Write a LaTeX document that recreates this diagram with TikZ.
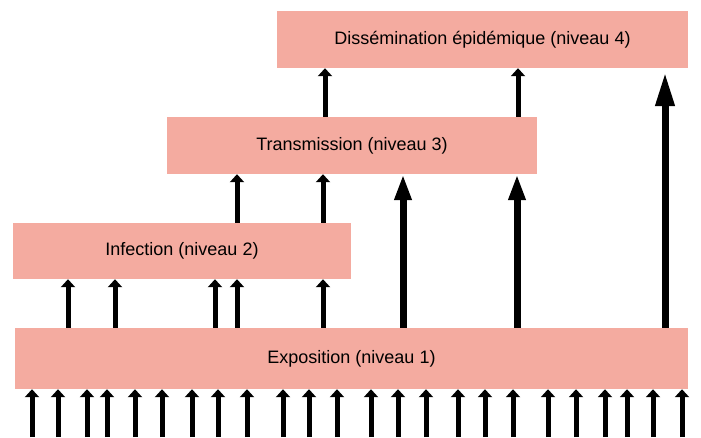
\documentclass[tikz,border=0pt]{standalone}
\usepackage{fontspec}
\setmainfont{Liberation Sans}
\usetikzlibrary{arrows.meta}
\definecolor{rosebox}{HTML}{F4ABA0}

\begin{document}
\begin{tikzpicture}[x=1pt,y=-1pt,font=\fontsize{18}{21}\selectfont,
    boite/.style={fill=rosebox,inner sep=0pt},
    petite/.style={line width=5pt,-{Triangle[length=8pt,width=14pt]}},
    grande/.style={line width=7pt,-{Triangle[length=26pt,width=16pt]}},
    tresgrande/.style={line width=7pt,-{Triangle[length=34pt,width=18pt]}}]
  \useasboundingbox (0,0) rectangle (701,437);

  % les quatre niveaux
  \node[boite,minimum width=411pt,minimum height=57pt] (niv4) at (482.5,39.5)
    {Dissémination épidémique (niveau 4)};
  \node[boite,minimum width=370pt,minimum height=57pt] (niv3) at (352,145.5)
    {Transmission (niveau 3)};
  \node[boite,minimum width=338pt,minimum height=56pt] (niv2) at (182,251)
    {Infection (niveau 2)};
  \node[boite,minimum width=673pt,minimum height=61pt] (niv1) at (351.5,358.5)
    {Exposition (niveau 1)};
  \coordinate (sol) at (0,437);

  % entrées sous le niveau 1
  \foreach \x in {32,58,87,107,135,162,192,218,247,283,309,337,
                  371,398,426,458,485,513,548,576,605,627,653,682}
    \draw[petite] (\x,0 |- sol) -- (\x,0 |- niv1.south);

  \foreach \x in {68,115,215,237,323}
    \draw[petite] (\x,0 |- niv1.north) -- (\x,0 |- niv2.south);
  \foreach \x in {237,323}
    \draw[petite] (\x,0 |- niv2.north) -- (\x,0 |- niv3.south);
  \foreach \x in {403,517}
    \draw[grande] (\x,0 |- niv1.north) -- (\x,0 |- niv3.south);
  \foreach \x in {325,518}
    \draw[petite] (\x,0 |- niv3.north) -- (\x,0 |- niv4.south);
  \draw[tresgrande] (665,0 |- niv1.north) -- ([yshift=-4pt]665,0 |- niv4.south);
\end{tikzpicture}
\end{document}
